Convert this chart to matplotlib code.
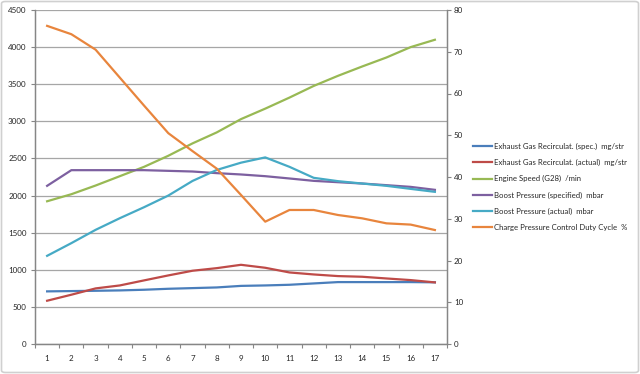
import matplotlib
matplotlib.use("Agg")
import matplotlib.pyplot as plt
from matplotlib.patches import FancyBboxPatch

plt.rcParams['font.family'] = ['Lato', 'DejaVu Sans']

categories = list(range(1, 17 + 1))
egr_spec = [709, 713, 717, 722, 731, 744, 753, 762, 783, 789, 798, 816, 834, 834, 834, 834, 831]
egr_actual = [583, 664, 749, 789, 857, 924, 987, 1022, 1067, 1027, 964, 937, 915, 906, 883, 861, 830]
engine_speed = [1923, 2018, 2135, 2261, 2387, 2536, 2703, 2851, 3030, 3171, 3320, 3477, 3613, 3739, 3860, 4000, 4099]
boost_spec = [2131, 2342, 2342, 2342, 2342, 2333, 2324, 2302, 2284, 2261, 2230, 2198, 2180, 2162, 2140, 2117, 2077]
boost_actual = [1188, 1359, 1538, 1695, 1843, 2000, 2197, 2345, 2443, 2514, 2387, 2239, 2194, 2162, 2131, 2090, 2050]
duty_cycle = [76.2, 74.2, 70.5, 63.8, 57.1, 50.5, 46.2, 42.0, 35.7, 29.3, 32.1, 32.1, 30.9, 30.1, 28.9, 28.6, 27.3]

labels = [
    "Exhaust Gas Recirculat. (spec.)  mg/str",
    "Exhaust Gas Recirculat. (actual)  mg/str",
    "Engine Speed (G28)  /min",
    "Boost Pressure (specified)  mbar",
    "Boost Pressure (actual)  mbar",
    "Charge Pressure Control Duty Cycle  %",
]
colors = ["#4A7EBB", "#BE4B48", "#98B954", "#7D60A0", "#46AAC5", "#E8853D"]

W, H = 640, 374
fig = plt.figure(figsize=(W / 100, H / 100), dpi=100)
fig.patch.set_facecolor("white")

x0, x1, y0, y1 = 35, 447, 10, 344
ax = fig.add_axes([x0 / W, 1 - y1 / H, (x1 - x0) / W, (y1 - y0) / H])
ax2 = ax.twinx()

lw = 1.6
handles = []
for vals, c, lab in zip([egr_spec, egr_actual, engine_speed, boost_spec, boost_actual],
                        colors[:5], labels[:5]):
    h, = ax.plot(categories, vals, color=c, lw=lw, label=lab, solid_joinstyle='round')
    handles.append(h)
h, = ax2.plot(categories, duty_cycle, color=colors[5], lw=lw, label=labels[5], solid_joinstyle='round')
handles.append(h)

ax.set_xlim(0.5, 17.5)
ax.set_ylim(0, 4500)
ax2.set_ylim(0, 80)
ax.set_yticks(range(0, 4501, 500))
ax2.set_yticks(range(0, 81, 10))
ax.set_xticks(categories)
ax.set_xticks([c - 0.5 for c in categories] + [17.5], minor=True)

axis_col = "#868686"
txt_col = "#262626"
ax.grid(axis='y', color="#a6a6a6", lw=0.9)
ax.set_axisbelow(True)
for a in (ax, ax2):
    a.spines['top'].set_visible(False)
    for s in ('left', 'right', 'bottom'):
        a.spines[s].set_color(axis_col)
        a.spines[s].set_linewidth(0.9)

ax.tick_params(axis='y', direction='out', length=3, width=0.8, color=axis_col,
               labelsize=5.8, labelcolor=txt_col, pad=3)
ax2.tick_params(axis='y', direction='out', length=3, width=0.8, color=axis_col,
                labelsize=5.8, labelcolor=txt_col, pad=2)
ax.tick_params(axis='x', which='major', length=0, labelsize=5.8, labelcolor=txt_col, pad=8)
ax.tick_params(axis='x', which='minor', direction='out', length=3, width=0.8, color=axis_col)

fig.legend(handles=handles, labels=labels, loc='upper left',
           bbox_to_anchor=(473 / W, 1 - 143 / H), frameon=False,
           fontsize=5.6, handlelength=2.4, handletextpad=0.3,
           labelspacing=1.15, borderpad=0, borderaxespad=0, labelcolor=txt_col)

border = FancyBboxPatch((1.5 / W, 1.5 / H), (W - 3) / W, (H - 3) / H,
                        boxstyle="round,pad=0,rounding_size=0.006",
                        transform=fig.transFigure, fill=False, ec="#d0d0d0", lw=1.2)
fig.patches.append(border)

fig.savefig("out.png", dpi=100)
